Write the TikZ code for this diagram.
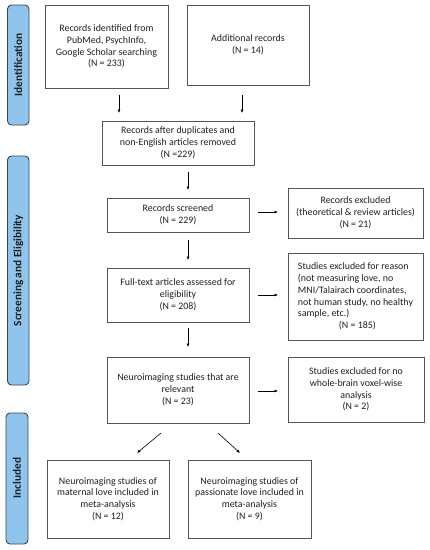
\documentclass[tikz,border=0pt]{standalone}
\usepackage{fontspec}
\setmainfont{Carlito}
\usetikzlibrary{arrows.meta}
\definecolor{barblue}{HTML}{8FC5EC}
\definecolor{barline}{HTML}{3A4656}
\definecolor{boxline}{HTML}{555555}
\begin{document}
\begin{tikzpicture}[x=1pt,y=-1pt,
  box/.style={draw=boxline,line width=0.9pt,align=center,inner sep=2pt,font=\fontsize{9.9}{11.8}\selectfont,text=black!88},
  bar/.style={draw=barline,fill=barblue,line width=0.9pt,rounded corners=4pt},
  bartext/.style={rotate=90,font=\fontsize{11.3}{12}\selectfont\bfseries,text=black!88},
  arr/.style={-{Latex[length=3.5pt,width=3pt]},line width=0.6pt}]
\useasboundingbox (0,0) rectangle (430,550);
% side bars
\draw[bar] (7.5,5) rectangle (29,125);
\node[bartext] (lid) at (18.25,65) {Identification};
\draw[bar] (7.5,156) rectangle (29,385);
\node[bartext] (lsc) at (18.25,270.5) {Screening and Eligibility};
\draw[bar] (6,413) rectangle (28,544);
\node[bartext] (lin) at (17,478) {Included};
% boxes
\node[box,minimum width=123pt,minimum height=83pt] (b1) at (106.5,46.5) {Records identified from\\PubMed, PsychInfo,\\Google Scholar searching\\(N = 233)};
\node[box,minimum width=122pt,minimum height=80pt] (b2) at (248,45) {Additional records\\(N = 14)};
\node[box,minimum width=152pt,minimum height=44pt] (b3) at (178,143) {Records after duplicates and\\non-English articles removed\\(N =229)};
\node[box,minimum width=142pt,minimum height=34pt] (b4) at (178,215) {Records screened\\(N = 229)};
\node[box,minimum width=142pt,minimum height=54pt] (b5) at (178,295) {Full-text articles assessed for\\eligibility\\(N = 208)};
\node[box,minimum width=142pt,minimum height=66pt] (b6) at (178,390) {Neuroimaging studies that are\\relevant\\(N = 23)};
\node[box,minimum width=135pt,minimum height=50pt] (r1) at (355.5,213) {Records excluded\\(theoretical \& review articles)\\(N = 21)};
\node[box,minimum width=135pt,minimum height=87pt,align=left] (r2) at (355.5,296.5) {Studies excluded for reason\\(not measuring love, no\\MNI/Talairach coordinates,\\not human study, no healthy\\sample, etc.)\\\hspace*{41pt}(N = 185)};
\node[box,minimum width=136pt,minimum height=65pt] (r3) at (356,389.5) {Studies excluded for no\\whole-brain voxel-wise\\analysis\\(N = 2)};
\node[box,minimum width=122pt,minimum height=78pt] (c1) at (108,499) {Neuroimaging studies of\\maternal love included in\\meta-analysis\\(N = 12)};
\node[box,minimum width=123pt,minimum height=78pt] (c2) at (249.5,499) {Neuroimaging studies of\\passionate love included in\\meta-analysis\\(N = 9)};
% connectors
\coordinate (a1s) at (119,95); \coordinate (a1e) at (119,113);
\coordinate (a2s) at (242,95); \coordinate (a2e) at (242,113);
\draw[arr] (a1s) -- (a1e);
\draw[arr] (a2s) -- (a2e);
\coordinate (a3s) at (188,172); \coordinate (a3e) at (188,190);
\draw[arr] (a3s) -- (a3e);
\coordinate (a4s) at (188,240); \coordinate (a4e) at (188,260);
\draw[arr] (a4s) -- (a4e);
\coordinate (a5s) at (188,328); \coordinate (a5e) at (188,347);
\draw[arr] (a5s) -- (a5e);
\coordinate (h1s) at (258,212); \coordinate (h1e) at (278,212);
\draw[arr] (h1s) -- (h1e);
\coordinate (h2s) at (258,295); \coordinate (h2e) at (278,295);
\draw[arr] (h2s) -- (h2e);
\coordinate (h3s) at (258,391); \coordinate (h3e) at (278,391);
\draw[arr] (h3s) -- (h3e);
\coordinate (d1s) at (161,433); \coordinate (d1e) at (137,453);
\draw[arr] (d1s) -- (d1e);
\coordinate (d2s) at (218,433); \coordinate (d2e) at (240,453);
\draw[arr] (d2s) -- (d2e);
\end{tikzpicture}
\end{document}
